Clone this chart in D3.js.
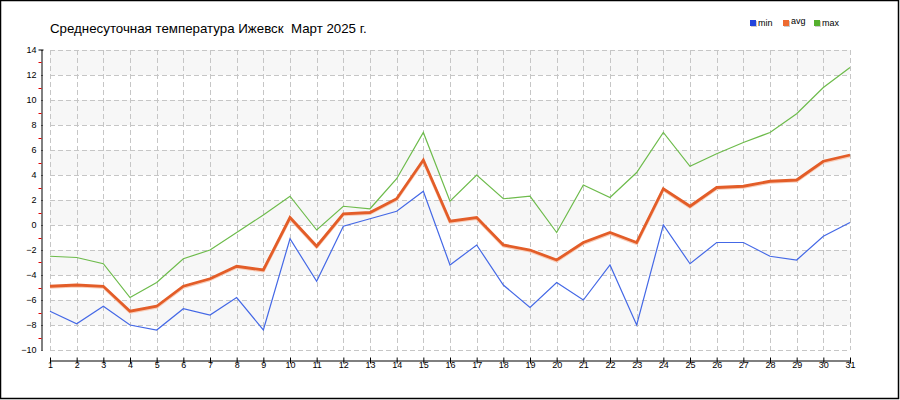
<!DOCTYPE html>
<html><head><meta charset="utf-8">
<script src="https://cdn.jsdelivr.net/npm/d3@7"></script>
<style>body{margin:0;background:#fff}svg{display:block}</style>
</head><body>
<script>
const title = "Среднесуточная температура Ижевск  Март 2025 г.";
const days = d3.range(1, 32);
const minT = [-6.9,-7.9,-6.5,-8.0,-8.4,-6.7,-7.2,-5.8,-8.4,-1.1,-4.5,-0.1,0.5,1.1,2.7,-3.2,-1.6,-4.8,-6.6,-4.6,-6.0,-3.2,-8.0,0.0,-3.1,-1.4,-1.4,-2.5,-2.8,-0.9,0.2];
const avgT = [-4.9,-4.8,-4.9,-6.9,-6.5,-4.9,-4.3,-3.3,-3.6,0.6,-1.7,0.9,1.0,2.1,5.2,0.3,0.6,-1.6,-2.0,-2.8,-1.4,-0.6,-1.4,2.9,1.5,3.0,3.1,3.5,3.6,5.1,5.6];
const maxT = [-2.5,-2.6,-3.1,-5.8,-4.6,-2.7,-2.0,-0.6,0.8,2.3,-0.4,1.5,1.3,3.7,7.4,1.9,4.0,2.1,2.3,-0.6,3.2,2.2,4.2,7.4,4.7,5.7,6.6,7.4,8.9,11.0,12.6];
const yTicks = d3.range(-10, 15, 2);
const yMinor = d3.range(-9, 14, 2);
const series = [
  {name:"min", values:minT, color:"#4468e6", legend:"#2244dd"},
  {name:"avg", values:avgT, color:"#e35d28", legend:"#ee6a30"},
  {name:"max", values:maxT, color:"#6dbb4b", legend:"#55b02e"}
];

const W = 900, H = 400;
const svg = d3.select("body").append("svg").attr("width", W).attr("height", H);
svg.append("rect").attr("x",0.5).attr("y",0.5).attr("width",898).attr("height",398)
  .attr("fill","#fff").attr("stroke","#000").attr("stroke-width",1.5);

const x = d3.scaleLinear().domain([1,31]).range([50,850]);
const y = d3.scaleLinear().domain([-10,14]).range([350,50]);

// bands
const bands = [[12,14],[8,10],[4,6],[0,2],[-4,-2],[-8,-6]];
svg.append("g").selectAll("rect").data(bands).join("rect")
  .attr("x", x(1)).attr("width", x(31)-x(1))
  .attr("y", d=>y(d[1])).attr("height", d=>y(d[0])-y(d[1]))
  .attr("fill","#f7f7f7");

// grid
const grid = svg.append("g").attr("stroke","#c6c6c6").attr("stroke-dasharray","5,3").attr("shape-rendering","crispEdges");
grid.selectAll("line.v").data(days).join("line").attr("class","v")
  .attr("x1",d=>Math.round(x(d))+0.5).attr("x2",d=>Math.round(x(d))+0.5).attr("y1",y(14)).attr("y2",y(-10));
grid.selectAll("line.h").data(yTicks).join("line").attr("class","h")
  .attr("x1",x(1)).attr("x2",x(31)).attr("y1",d=>Math.round(y(d))+0.5).attr("y2",d=>Math.round(y(d))+0.5);

// y axis
const yAxis = svg.append("g").attr("transform","translate(41.5,0)")
  .call(d3.axisLeft(y).tickValues(yTicks).tickSize(3).tickSizeOuter(0).tickFormat(d3.format("d")));
yAxis.select(".domain").attr("stroke","#000");
yAxis.selectAll(".tick line").attr("stroke","#000").attr("x2",1);
yAxis.selectAll(".tick text").attr("x",-5).attr("font-family","Liberation Sans, Arial, sans-serif").attr("font-size",9).attr("fill","#000");
yAxis.append("line").attr("x1",-3).attr("x2",2).attr("y1",y(14)).attr("y2",y(14)).attr("stroke","#000");
yAxis.selectAll("line.minor").data(yMinor).join("line").attr("class","minor")
  .attr("x1",-3).attr("x2",0).attr("y1",d=>Math.round(y(d))+0.5).attr("y2",d=>Math.round(y(d))+0.5)
  .attr("stroke","#e00000");

// x axis
const xAxis = svg.append("g").attr("transform","translate(0,360.5)")
  .call(d3.axisBottom(x).tickValues(days).tickSize(3).tickSizeOuter(0).tickFormat(d3.format("d")));
xAxis.select(".domain").attr("stroke","#000");
xAxis.selectAll(".tick line").attr("stroke","#000").attr("y1",-3).attr("y2",3);
xAxis.selectAll(".tick text").attr("y",1).attr("font-family","Liberation Sans, Arial, sans-serif").attr("font-size",9).attr("fill","#000");

// lines
const line = d3.line().x((d,i)=>x(days[i])).y(d=>y(d));
// avg halo
svg.append("path").datum(avgT).attr("d",line).attr("fill","none")
  .attr("stroke","#f8cdb9").attr("stroke-width",3).attr("transform","translate(0,1)").attr("stroke-linejoin","round");
series.forEach(s=>{
  svg.append("path").datum(s.values).attr("d",line).attr("fill","none")
    .attr("stroke",s.color).attr("stroke-width", s.name==="avg"?2.8:1.2).attr("stroke-linejoin","miter");
});

// title
svg.append("text").attr("x",50).attr("y",33).attr("xml:space","preserve").style("white-space","pre").text(title)
  .attr("font-family","Liberation Sans, Arial, sans-serif").attr("font-size",13.3).attr("fill","#000");

// legend
const legX = [750, 783, 814];
const leg = svg.append("g");
series.forEach((s,i)=>{
  leg.append("rect").attr("x",legX[i]+1).attr("y",21).attr("width",6).attr("height",6).attr("fill","#ccc");
  leg.append("rect").attr("x",legX[i]).attr("y",20).attr("width",6).attr("height",6).attr("fill",s.legend);
  leg.append("text").attr("x",legX[i]+8).attr("y", s.name==="avg"?24:26).text(s.name)
    .attr("font-family","Liberation Sans, Arial, sans-serif").attr("font-size",9).attr("fill","#000");
});
</script>
</body></html>
